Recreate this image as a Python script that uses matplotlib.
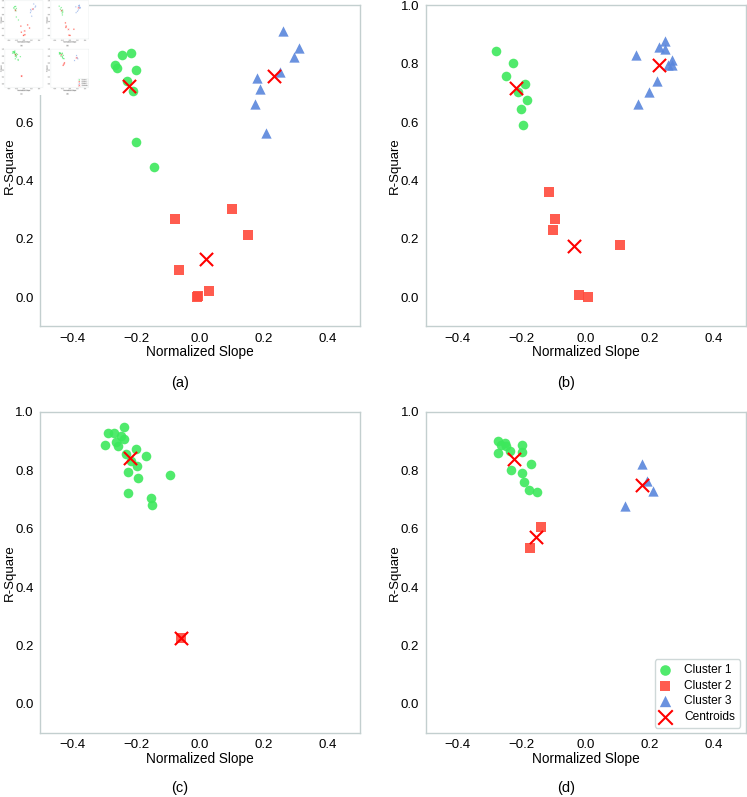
import numpy as np
import matplotlib
matplotlib.use("Agg")
import matplotlib.pyplot as plt

plt.rcParams['font.family'] = ['Liberation Sans', 'DejaVu Sans']

GREEN = '#3de85c'
RED = '#ff4a3c'
BLUE = '#5a86dc'
SPINE = '#c3cfcf'

# ---- panel (a) ----
a_c1_x = [-0.244, -0.215, -0.267, -0.258, -0.201, -0.229, -0.209, -0.201, -0.144]
a_c1_y = [0.831, 0.837, 0.795, 0.787, 0.779, 0.741, 0.707, 0.532, 0.446]
a_c2_x = [-0.079, 0.100, 0.150, -0.065, 0.028, -0.010, -0.005]
a_c2_y = [0.270, 0.302, 0.214, 0.094, 0.020, 0.000, 0.003]
a_c3_x = [0.258, 0.310, 0.293, 0.251, 0.178, 0.186, 0.172, 0.207]
a_c3_y = [0.914, 0.853, 0.825, 0.772, 0.751, 0.713, 0.664, 0.563]
a_cen_x = [-0.223, 0.018, 0.232]
a_cen_y = [0.724, 0.130, 0.760]

# ---- panel (b) ----
b_c1_x = [-0.279, -0.228, -0.248, -0.190, -0.210, -0.184, -0.203, -0.196]
b_c1_y = [0.843, 0.802, 0.757, 0.731, 0.705, 0.675, 0.647, 0.589]
b_c2_x = [-0.115, -0.095, -0.102, 0.107, -0.019, 0.007]
b_c2_y = [0.360, 0.270, 0.230, 0.180, 0.008, 0.001]
b_c3_x = [0.159, 0.229, 0.249, 0.248, 0.270, 0.257, 0.270, 0.223, 0.197, 0.165]
b_c3_y = [0.830, 0.859, 0.877, 0.851, 0.814, 0.797, 0.797, 0.741, 0.703, 0.661]
b_cen_x = [-0.216, -0.036, 0.229]
b_cen_y = [0.718, 0.175, 0.797]

# ---- panel (c) ----
c_c1_x = [-0.239, -0.286, -0.268, -0.247, -0.236, -0.297, -0.264, -0.257, -0.199,
          -0.230, -0.168, -0.215, -0.197, -0.225, -0.194, -0.093, -0.224, -0.153, -0.151]
c_c1_y = [0.949, 0.928, 0.928, 0.917, 0.906, 0.888, 0.896, 0.882, 0.873,
          0.856, 0.848, 0.831, 0.816, 0.793, 0.773, 0.785, 0.722, 0.707, 0.683]
c_c2_x = [-0.060]
c_c2_y = [0.226]
c_c3_x = []
c_c3_y = []
c_cen_x = [-0.220, -0.060]
c_cen_y = [0.842, 0.226]

# ---- panel (d) ----
d_c1_x = [-0.275, -0.252, -0.263, -0.249, -0.236, -0.275, -0.198, -0.197, -0.170,
          -0.233, -0.197, -0.191, -0.177, -0.152]
d_c1_y = [0.899, 0.894, 0.888, 0.882, 0.865, 0.859, 0.886, 0.863, 0.823,
          0.800, 0.791, 0.759, 0.734, 0.726]
d_c2_x = [-0.139, -0.174]
d_c2_y = [0.605, 0.535]
d_c3_x = [0.176, 0.191, 0.211, 0.124]
d_c3_y = [0.822, 0.762, 0.730, 0.679]
d_cen_x = [-0.223, -0.156, 0.175]
d_cen_y = [0.839, 0.570, 0.749]

panels = [
    ("(a)", a_c1_x, a_c1_y, a_c2_x, a_c2_y, a_c3_x, a_c3_y, a_cen_x, a_cen_y),
    ("(b)", b_c1_x, b_c1_y, b_c2_x, b_c2_y, b_c3_x, b_c3_y, b_cen_x, b_cen_y),
    ("(c)", c_c1_x, c_c1_y, c_c2_x, c_c2_y, c_c3_x, c_c3_y, c_cen_x, c_cen_y),
    ("(d)", d_c1_x, d_c1_y, d_c2_x, d_c2_y, d_c3_x, d_c3_y, d_cen_x, d_cen_y),
]

W, H = 747, 797
fig = plt.figure(figsize=(W / 100, H / 100), dpi=100)

# axes boxes in pixels: left, top
boxes = [(40, 5.5), (425.5, 5.5), (40, 412), (425.5, 412)]
label_pos = [(180, 383), (566, 383), (180, 788), (566, 788)]
AW, AH = 320, 321

for (tag, x1, y1, x2, y2, x3, y3, cx, cy), (l, t), (lx, ly) in zip(panels, boxes, label_pos):
    ax = fig.add_axes([l / W, 1 - (t + AH) / H, AW / W, AH / H])
    ax.scatter(x1, y1, s=48, marker='o', color=GREEN, alpha=0.9, linewidths=0, label='Cluster 1')
    ax.scatter(x2, y2, s=46, marker='s', color=RED, alpha=0.9, linewidths=0, label='Cluster 2')
    ax.scatter(x3, y3, s=55, marker='^', color=BLUE, alpha=0.9, linewidths=0, label='Cluster 3')
    ax.scatter(cx, cy, s=90, marker='x', color='red', linewidths=1.5, label='Centroids')
    ax.set_xlim(-0.5, 0.5)
    ax.set_ylim(-0.1, 1.0)
    ax.set_xticks([-0.4, -0.2, 0.0, 0.2, 0.4])
    ax.set_yticks([0.0, 0.2, 0.4, 0.6, 0.8, 1.0])
    ax.tick_params(length=0, labelsize=9.5, pad=4.5)
    ax.set_xlabel("Normalized Slope", fontsize=9.8, labelpad=0.5)
    ax.set_ylabel("R-Square", fontsize=9.5)
    # right edge of the rotated ylabel sits about 25 px left of the axes
    ax.yaxis.set_label_coords(-24.5 / AW, 0.5)
    for sp in ax.spines.values():
        sp.set_color(SPINE)
        sp.set_linewidth(1.0)
    fig.text(lx / W, 1 - ly / H, tag, ha='center', va='center', fontsize=10.5)
    if tag == "(d)":
        ax.legend(loc='lower right', fontsize=8.6, markerscale=1.1, frameon=True,
                  edgecolor=SPINE, fancybox=True, borderpad=0.4, labelspacing=0.3,
                  handlelength=1.0, handletextpad=1.1, borderaxespad=0.45)

# small thumbnail of the whole figure pasted in the top-left corner
fig.canvas.draw()
img = np.asarray(fig.canvas.buffer_rgba()).copy()
tw, th = 89, 95
inset = fig.add_axes([0, 1 - th / H, tw / W, th / H])
inset.imshow(img, interpolation='antialiased', aspect='auto')
inset.set_axis_off()

fig.savefig("out.png", dpi=100)
